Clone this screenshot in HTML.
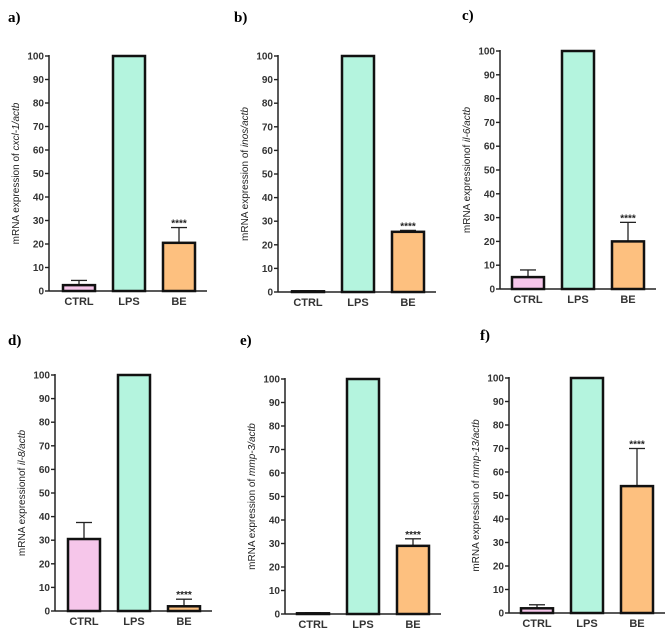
<!DOCTYPE html>
<html><head><meta charset="utf-8"><style>
html,body{margin:0;padding:0;background:#fff;}
svg{display:block;font-family:"Liberation Sans",Arial,sans-serif;}
</style></head><body>
<svg id="chart" width="669" height="632" viewBox="0 0 669 632"></svg>
<script>
const categories = ["CTRL","LPS","BE"];
const ticks = [0,10,20,30,40,50,60,70,80,90,100];
const panelLabels = ["a)","b)","c)","d)","e)","f)"];
const genes = ["cxcl-1","inos","il-6","il-8","mmp-3","mmp-13"];
const meansA = [2.5,100,20.5], errA = [2,0,6.5];
const meansB = [0.3,100,25.5], errB = [0.2,0,0.6];
const meansC = [5,100,20], errC = [3,0,8];
const meansD = [30.5,100,2], errD = [7,0,3];
const meansE = [0.3,100,29], errE = [0.2,0,3];
const meansF = [2,100,54], errF = [1.5,0,16];
const allMeans=[meansA,meansB,meansC,meansD,meansE,meansF];
const allErr=[errA,errB,errC,errD,errE,errF];
const prefixes=["mRNA expression of ","mRNA expression of ","mRNA expressionof ","mRNA expressionof ","mRNA expression of  ","mRNA expression of  "];
const layout=[
 {ax:49,y0:291,y1:56,b0:63,lx:8,ly:22},
 {ax:278,y0:292,y1:56,b0:292,lx:234,ly:22},
 {ax:500,y0:289,y1:51,b0:512,lx:462,ly:20},
 {ax:55,y0:611,y1:375,b0:68,lx:8,ly:345},
 {ax:285,y0:614,y1:379,b0:297,lx:240,ly:345},
 {ax:509,y0:613,y1:378,b0:521,lx:480,ly:340}
];
const colors=["#f6c6ea","#b4f4de","#fdc07f"];
const NS="http://www.w3.org/2000/svg";
const svg=document.getElementById('chart');
function mk(t,a,p){const e=document.createElementNS(NS,t);for(const k in a)e.setAttribute(k,a[k]);(p||svg).appendChild(e);return e;}
layout.forEach((L,i)=>{
  const g=mk('g',{});
  
  
  const y=v=>L.y0-(L.y0-L.y1)*v/100;
  const bw=32, step=50;
  const bx=k=>L.b0+k*step;
  const lab=mk('text',{x:L.lx,y:L.ly,'font-size':15,'font-weight':'bold','font-family':'Liberation Serif,serif'},g);
  lab.textContent=panelLabels[i];
  
  
  const ya=mk('line',{x1:L.ax,y1:y(100)-1,x2:L.ax,y2:L.y0,stroke:'#222','stroke-width':1.5},g);
  
  
  const xa=mk('line',{x1:L.ax,y1:L.y0,x2:bx(2)+bw+12,y2:L.y0,stroke:'#222','stroke-width':1.5},g);
  
  
  ticks.forEach(t=>{
    mk('line',{x1:L.ax-4,y1:y(t),x2:L.ax,y2:y(t),stroke:'#222','stroke-width':1.4},g);
    const tx=mk('text',{x:L.ax-5,y:y(t)+3.5,'font-size':10,'font-weight':'bold','text-anchor':'end',fill:'#333'},g);
    tx.textContent=t;
    
    
  });
  const cy=(L.y0+L.y1)/2, cx=L.ax-30;
  const yt=mk('text',{x:cx,y:cy,'font-size':10,'text-anchor':'middle',fill:'#222',transform:`rotate(-90 ${cx} ${cy})`},g);
  
  
  yt.appendChild(document.createTextNode(prefixes[i]));
  const ts=mk('tspan',{'font-style':'italic'},yt); ts.textContent=genes[i]+'/actb';
  categories.forEach((c,k)=>{
    const m=allMeans[i][k], e=allErr[i][k];
    const cxk=bx(k)+bw/2;
    if(e>0){
      const el=mk('line',{x1:cxk,y1:y(m+e),x2:cxk,y2:y(m),stroke:'#222','stroke-width':1.3},g);
      
      
      mk('line',{x1:cxk-8,y1:y(m+e),x2:cxk+8,y2:y(m+e),stroke:'#222','stroke-width':1.3},g);
    }
    const r=mk('rect',{x:bx(k),y:y(m),width:bw,height:Math.max(0.5,L.y0-y(m)),fill:colors[k],stroke:'#111','stroke-width':2.5},g);
    
    
    const xl=mk('text',{x:cxk,y:L.y0+14,'font-size':11,'font-weight':'bold','text-anchor':'middle',fill:'#333'},g);
    xl.textContent=c;
    
    
    if(k===2){
      const s=mk('text',{x:cxk,y:y(m+e)-1,'font-size':10,'font-weight':'bold','text-anchor':'middle',fill:'#222'},g);
      s.textContent='****';
      
      
    }
  });
});
</script>
</body></html>
